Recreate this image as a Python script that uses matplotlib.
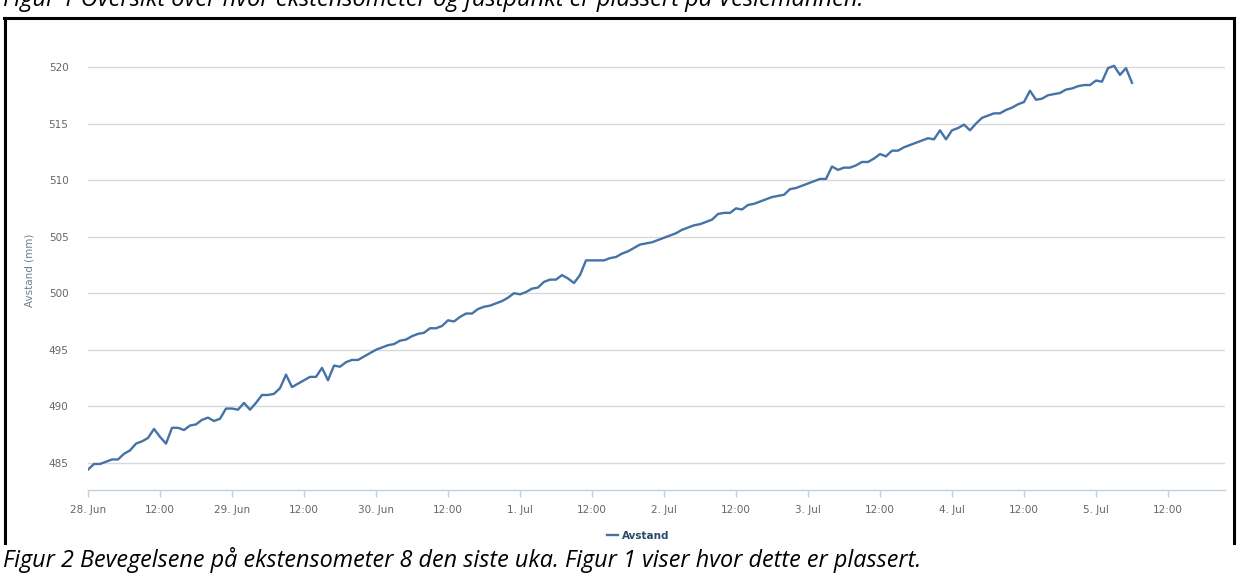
import datetime as dt
import matplotlib
matplotlib.use("Agg")
import matplotlib.pyplot as plt
import matplotlib.dates as mdates
from matplotlib.lines import Line2D
from matplotlib.ticker import FuncFormatter

# Hourly readings of extensometer 8, starting 28 Jun 00:00
start_time = dt.datetime(2018, 6, 28, 0, 0)
avstand_mm = [
    484.4, 484.9, 484.9, 485.1, 485.3, 485.3, 485.8, 486.1, 486.7, 486.9,
    487.2, 488.0, 487.3, 486.7, 488.1, 488.1, 487.9, 488.3, 488.4, 488.8,
    489.0, 488.7, 488.9, 489.8, 489.8, 489.7, 490.3, 489.7, 490.3, 491.0,
    491.0, 491.1, 491.6, 492.8, 491.7, 492.0, 492.3, 492.6, 492.6, 493.4,
    492.3, 493.6, 493.5, 493.9, 494.1, 494.1, 494.4, 494.7, 495.0, 495.2,
    495.4, 495.5, 495.8, 495.9, 496.2, 496.4, 496.5, 496.9, 496.9, 497.1,
    497.6, 497.5, 497.9, 498.2, 498.2, 498.6, 498.8, 498.9, 499.1, 499.3,
    499.6, 500.0, 499.9, 500.1, 500.4, 500.5, 501.0, 501.2, 501.2, 501.6,
    501.3, 500.9, 501.6, 502.9, 502.9, 502.9, 502.9, 503.1, 503.2, 503.5,
    503.7, 504.0, 504.3, 504.4, 504.5, 504.7, 504.9, 505.1, 505.3, 505.6,
    505.8, 506.0, 506.1, 506.3, 506.5, 507.0, 507.1, 507.1, 507.5, 507.4,
    507.8, 507.9, 508.1, 508.3, 508.5, 508.6, 508.7, 509.2, 509.3, 509.5,
    509.7, 509.9, 510.1, 510.1, 511.2, 510.9, 511.1, 511.1, 511.3, 511.6,
    511.6, 511.9, 512.3, 512.1, 512.6, 512.6, 512.9, 513.1, 513.3, 513.5,
    513.7, 513.6, 514.4, 513.6, 514.4, 514.6, 514.9, 514.4, 515.0, 515.5,
    515.7, 515.9, 515.9, 516.2, 516.4, 516.7, 516.9, 517.9, 517.1, 517.2,
    517.5, 517.6, 517.7, 518.0, 518.1, 518.3, 518.4, 518.4, 518.8, 518.7,
    519.9, 520.1, 519.3, 519.9, 518.6,
]
times = [start_time + dt.timedelta(hours=i) for i in range(len(avstand_mm))]

y_ticks = [485, 490, 495, 500, 505, 510, 515, 520]
series_name = "Avstand"
y_title = "Avstand (mm)"
caption_top = "Figur 1 Oversikt over hvor ekstensometer og fastpunkt er plassert på Veslemannen."
caption_bottom = "Figur 2 Bevegelsene på ekstensometer 8 den siste uka. Figur 1 viser hvor dette er plassert."

line_color = "#4572A7"
grid_color = "#D8D8D8"
axis_color = "#C0D0E0"
label_color = "#666666"

W, H = 1237, 574
fig = plt.figure(figsize=(W / 100, H / 100), dpi=100)
ax = fig.add_axes([88 / W, 84 / H, (1225 - 88) / W, 440 / H])

ax.plot(times, avstand_mm, color=line_color, lw=1.7, label=series_name,
        solid_joinstyle="round", zorder=3)

ax.set_xlim(start_time, start_time + dt.timedelta(hours=189.5))
ax.set_ylim(482.6, 521.5)

ax.set_yticks(y_ticks)
ax.yaxis.grid(True, color=grid_color, lw=1)
ax.tick_params(axis="y", length=0, pad=14, labelsize=7.5, labelcolor=label_color)

ax.xaxis.set_major_locator(mdates.HourLocator(byhour=[0, 12]))


def fmt_date(x, pos):
    d = mdates.num2date(x)
    if d.hour == 0:
        return f"{d.day}. {d.strftime('%b')}"
    return d.strftime("%H:%M")


ax.xaxis.set_major_formatter(FuncFormatter(fmt_date))
ax.tick_params(axis="x", length=5, width=1, color=axis_color, pad=6,
               labelsize=7.5, labelcolor=label_color)

for side in ["top", "right", "left"]:
    ax.spines[side].set_visible(False)
ax.spines["bottom"].set_color(axis_color)
ax.spines["bottom"].set_linewidth(1)

ax.set_ylabel(y_title, fontsize=7.5, color="#6D7F94", labelpad=10)

fig.legend(loc="center", bbox_to_anchor=(0.516, 0.066), frameon=False,
           handlelength=1.0, handletextpad=0.4,
           prop={"size": 7.5, "weight": "bold"}, labelcolor="#274B6D")

# document frame around the chart
fig.add_artist(Line2D([4 / W, 1 - 3 / W], [1 - 18 / H, 1 - 18 / H], color="black", lw=2.2))
fig.add_artist(Line2D([5 / W, 5 / W], [1 - 18 / H, 1 - 543 / H], color="black", lw=2.2))
fig.add_artist(Line2D([1 - 3 / W, 1 - 3 / W], [1 - 18 / H, 1 - 543 / H], color="black", lw=2.2))

# captions of the surrounding document (top one is cut off at the edge)
fig.text(3 / W, 1 - 6 / H, caption_top, fontsize=17, style="italic",
         family="Open Sans", va="baseline", ha="left")
fig.text(3 / W, 1 - 567 / H, caption_bottom, fontsize=16.8, style="italic",
         family="Open Sans", va="baseline", ha="left")

fig.savefig("out.png", dpi=100)
